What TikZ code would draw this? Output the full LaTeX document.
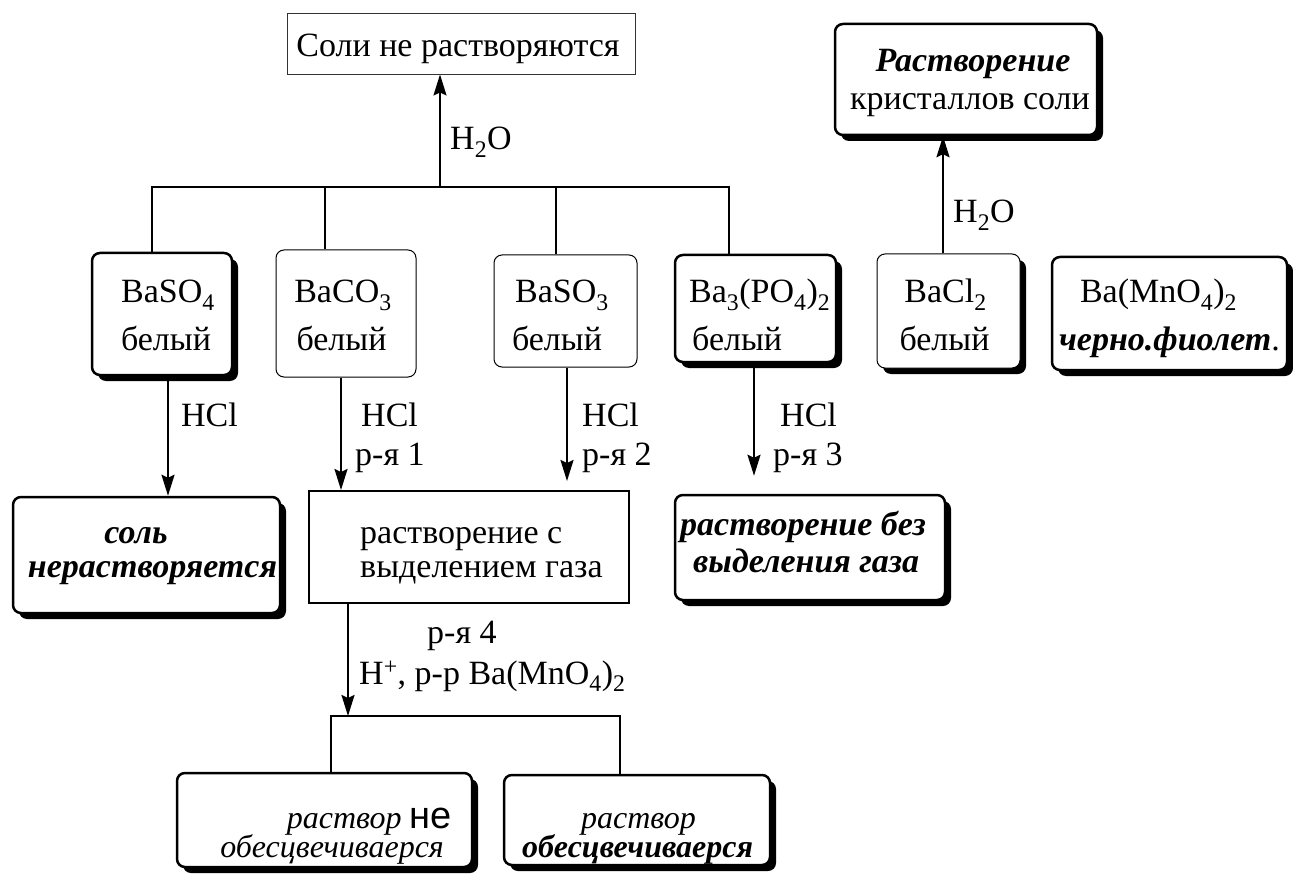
\documentclass[tikz,border=0pt]{standalone}
\usepackage{fontspec}
\setmainfont{Liberation Serif}
\newfontfamily\sansfam{Liberation Sans}
\usetikzlibrary{arrows.meta,shadows}
\tikzset{
  txt/.style={inner sep=0pt, anchor=base, font=\fontsize{34}{40}\selectfont},
  txtw/.style={txt, anchor=base west},
  bi/.style={inner sep=0pt, anchor=base, font=\fontsize{34}{40}\selectfont\bfseries\itshape},
  biw/.style={bi, anchor=base west},
  small/.style={inner sep=0pt, font=\fontsize{32}{34}\selectfont},
  shad/.style={drop shadow={shadow xshift=6pt, shadow yshift=-6pt, fill=black, opacity=1}},
  topbox/.style={draw=black!80, line width=0.9pt, fill=white, inner sep=0pt},
  thinbox/.style={draw, line width=1pt, rounded corners=8pt, fill=white, inner sep=0pt},
  thinshad/.style={thinbox, shad},
  thickbox/.style={draw, line width=2.5pt, rounded corners=8pt, fill=white, inner sep=0pt, shad},
  sqbox/.style={draw, line width=2pt, fill=white, inner sep=0pt},
  conn/.style={line width=2pt},
  arr/.style={line width=2pt, -{Stealth[length=21pt,width=13pt,inset=3pt]}}
}
\begin{document}
\begin{tikzpicture}[x=1pt,y=-1pt]
\path[use as bounding box] (0,0) rectangle (1293,877);

% ---- boxes ----
\node[topbox, minimum width=348pt, minimum height=61pt] (top) at (461,43.5) {};
\node[txt] (topt) at (458,57) {Соли не растворяются};

\node[thickbox, minimum width=262pt, minimum height=111pt] (tr) at (966,79.5) {};
\node[bi] (tra) at (973,72) {Растворение};
\node[txt] (trb) at (970,110) {кристаллов соли};

\node[thickbox, minimum width=140pt, minimum height=122pt] (bs4) at (162,314) {};
\node[txt] (bs4a) at (168,303) {BaSO\textsubscript{4}};
\node[txt] (bs4b) at (166,350) {белый};

\node[thinbox, minimum width=140pt, minimum height=127pt] (bc3) at (346,313.5) {};
\node[txt] (bc3a) at (343,303) {BaCO\textsubscript{3}};
\node[txt] (bc3b) at (341.5,350) {белый};

\node[thinbox, minimum width=143pt, minimum height=112pt] (bs3) at (565.5,311) {};
\node[txt] (bs3a) at (562,303) {BaSO\textsubscript{3}};
\node[txt] (bs3b) at (557,350) {белый};

\node[thickbox, minimum width=161pt, minimum height=107pt] (ba3) at (755.5,308.5) {};
\node[txtw] (ba3a) at (689,303) {Ba\textsubscript{3}(PO\textsubscript{4})\textsubscript{2}};
\node[txtw] (ba3b) at (692,350) {белый};

\node[thinshad, minimum width=143pt, minimum height=114pt] (bcl) at (948.5,311) {};
\node[txt] (bcla) at (945.5,303) {BaCl\textsubscript{2}};
\node[txt] (bclb) at (944.5,350) {белый};

\node[thickbox, minimum width=235pt, minimum height=113pt] (bmn) at (1169.5,313.5) {};
\node[txt] (bmna) at (1158.5,303) {Ba(MnO\textsubscript{4})\textsubscript{2}};
\node[txt] (bmnb) at (1169.5,350) {\textbf{\textit{черно.фиолет}}.};

\node[thickbox, minimum width=267pt, minimum height=116pt] (sol) at (146.5,555) {};
\node[bi] (sola) at (136,543) {соль};
\node[bi] (solb) at (152.5,577) {нерастворяется};

\node[sqbox, minimum width=320pt, minimum height=112pt] (rast) at (469,547) {};
\node[txtw] (rasta) at (360,543) {растворение с};
\node[txtw] (rastb) at (360,577) {выделением газа};

\node[thickbox, minimum width=270pt, minimum height=105pt] (bez) at (810,547.5) {};
\node[biw] (beza) at (680,535) {растворение без};
\node[biw] (bezb) at (693,572) {выделения газа};

\node[thickbox, minimum width=295pt, minimum height=94pt] (bo1) at (324.5,820) {};
\node[small, anchor=base east] (bo1a) at (452,828) {\textit{раствор} {\sansfam\fontsize{38}{38}\selectfont не}};
\node[small, anchor=base east] (bo1b) at (444,857) {\textit{обесцвечиваерся}};

\node[thickbox, minimum width=266pt, minimum height=90pt] (bo2) at (637,820) {};
\node[small, anchor=base] (bo2a) at (638.5,828) {\textit{раствор}};
\node[small, anchor=base] (bo2b) at (637.5,857) {\textbf{\textit{обесцвечиваерся}}};

% ---- coordinates ----
\coordinate (bL) at (152,187);
\coordinate (bR) at (729,187);
\coordinate (bj2) at (325,187);
\coordinate (bj3) at (556,187);
\coordinate (bus) at (440,187);
\coordinate (ax1) at (168,400);
\coordinate (ax2) at (341,400);
\coordinate (ax3) at (567,400);
\coordinate (ax4) at (754,400);
\coordinate (ax5) at (943,200);
\coordinate (ax6) at (348,650);
\coordinate (kL) at (331,716);
\coordinate (kR) at (620,716);

% ---- connectors ----
\draw[conn] (bs4.north -| bL) -- (bL) -- (bR) -- (ba3.north -| bR);
\draw[conn] (bj2) -- (bc3.north -| bj2);
\draw[conn] (bj3) -- (bs3.north -| bj3);
\draw[arr] (bus) -- (top.south -| bus);

\draw[arr] (bs4.south -| ax1) -- (sol.north -| ax1);
\draw[arr] (bc3.south -| ax2) -- (rast.north -| ax2);
\draw[arr, shorten >=9pt] (bs3.south -| ax3) -- (rast.north -| ax3);
\draw[arr, shorten >=18pt] (ba3.south -| ax4) -- (bez.north -| ax4);
\draw[arr] (bcl.north -| ax5) -- (tr.south -| ax5);

\draw[arr] (rast.south -| ax6) -- (kL -| ax6);
\draw[conn] (bo1.north -| kL) -- (kL) -- (kR) -- (bo2.north -| kR);

% ---- labels ----
\node[txtw] (h2o1) at (450,150) {H\textsubscript{2}O};
\node[txtw] (h2o2) at (953,223) {H\textsubscript{2}O};
\node[txtw] (hcl1) at (181,426) {HCl};
\node[txtw] (hcl2) at (361,426) {HCl};
\node[txtw] (r1) at (355,465) {р-я 1};
\node[txtw] (hcl3) at (582,426) {HCl};
\node[txtw] (r2) at (582,465) {р-я 2};
\node[txtw] (hcl4) at (780,426) {HCl};
\node[txtw] (r3) at (773,465) {р-я 3};
\node[txtw] (r4) at (427,643) {р-я 4};
\node[txtw] (r4b) at (359,684) {H\textsuperscript{+}, р-р Ba(MnO\textsubscript{4})\textsubscript{2}};
\end{tikzpicture}
\end{document}
